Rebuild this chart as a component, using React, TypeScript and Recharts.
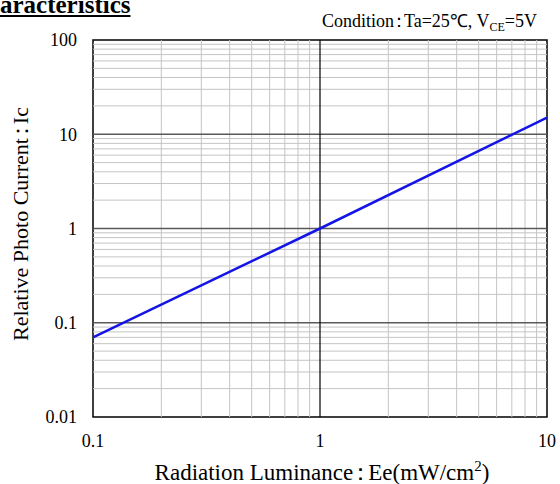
import React from "react";
import { LineChart, Line, XAxis, YAxis, ReferenceLine, ReferenceArea } from "recharts";

const xTicks = [0.1, 1, 10];
const yTicks = [0.01, 0.1, 1, 10, 100];
const xMinor = [0.2, 0.3, 0.4, 0.5, 0.6, 0.7, 0.8, 0.9, 2, 3, 4, 5, 6, 7, 8, 9];
const yMinor = [0.02, 0.03, 0.04, 0.05, 0.06, 0.07, 0.08, 0.09, 0.2, 0.3, 0.4, 0.5, 0.6, 0.7, 0.8, 0.9, 2, 3, 4, 5, 6, 7, 8, 9, 20, 30, 40, 50, 60, 70, 80, 90];
const yMajorInner = [0.1, 1, 10];
const xMajorInner = [1];

const luminance = [0.1, 1, 10];
const photoCurrent = [0.07, 1, 15];

const data = luminance.map((x, i) => ({ x, y: photoCurrent[i] }));

const serif = '"Liberation Serif", "Times New Roman", serif';

const fmt = (v: number) => String(v);

const Colon = () => <span style={{ margin: "0 -4px" }}>：</span>;

export default function App() {
  return (
    <div style={{ position: "absolute", left: 0, top: 0, width: 560, height: 484, background: "#fff", fontFamily: serif, overflow: "hidden" }}>
      <LineChart width={560} height={484} data={data} margin={{ top: 40, right: 13, bottom: 0, left: 0 }}>
        <XAxis
          dataKey="x"
          type="number"
          scale="log"
          domain={[0.1, 10]}
          ticks={xTicks}
          tickFormatter={fmt}
          axisLine={false}
          tickLine={false}
          height={67}
          tickMargin={11}
          tick={{ fill: "#000", fontSize: 18, fontFamily: serif }}
          allowDataOverflow
        />
        <YAxis
          type="number"
          scale="log"
          domain={[0.01, 100]}
          ticks={yTicks}
          tickFormatter={fmt}
          axisLine={false}
          tickLine={false}
          width={93}
          tickMargin={10}
          tick={{ fill: "#000", fontSize: 18, fontFamily: serif }}
          allowDataOverflow
        />
        {yMinor.map((v) => (
          <ReferenceLine key={"ym" + v} y={v} stroke="#c4c4c4" strokeWidth={1} />
        ))}
        {xMinor.map((v) => (
          <ReferenceLine key={"xm" + v} x={v} stroke="#c4c4c4" strokeWidth={1} />
        ))}
        {yMajorInner.map((v) => (
          <ReferenceLine key={"yM" + v} y={v} stroke="#5a5a5a" strokeWidth={1.5} />
        ))}
        {xMajorInner.map((v) => (
          <ReferenceLine key={"xM" + v} x={v} stroke="#000" strokeWidth={1.2} />
        ))}
        <ReferenceArea x1={0.1} x2={10} y1={0.01} y2={100} fill="none" stroke="#000" strokeWidth={1.5} />
        <Line
          dataKey="y"
          stroke="#1414e6"
          strokeWidth={2.5}
          dot={false}
          isAnimationActive={false}
          type="linear"
        />
      </LineChart>

      <div style={{ position: "absolute", left: 0, top: -8, fontSize: 25, fontWeight: "bold", textDecoration: "underline", whiteSpace: "nowrap", lineHeight: "25px" }}>
        aracteristics
      </div>
      <div style={{ position: "absolute", right: 23, top: 12, fontSize: 18, whiteSpace: "nowrap", lineHeight: "18px" }}>
        Condition<Colon />Ta=25℃, V<span style={{ fontSize: 12, position: "relative", top: 4 }}>CE</span>=5V
      </div>
      <div style={{ position: "absolute", left: 2, width: 640, top: 463, textAlign: "center", fontSize: 23, whiteSpace: "nowrap", lineHeight: "20px", height: 20 }}>
        Radiation Luminance<Colon />Ee(mW/cm<span style={{ fontSize: 15, position: "relative", top: -9 }}>2</span>)
      </div>
      <div style={{ position: "absolute", left: 21, top: 224, width: 0, height: 0 }}>
        <div style={{ position: "absolute", left: -200, top: -12, width: 400, textAlign: "center", fontSize: 22, whiteSpace: "nowrap", lineHeight: "24px", transform: "rotate(-90deg)" }}>
          Relative Photo Current<Colon />Ic
        </div>
      </div>
    </div>
  );
}
